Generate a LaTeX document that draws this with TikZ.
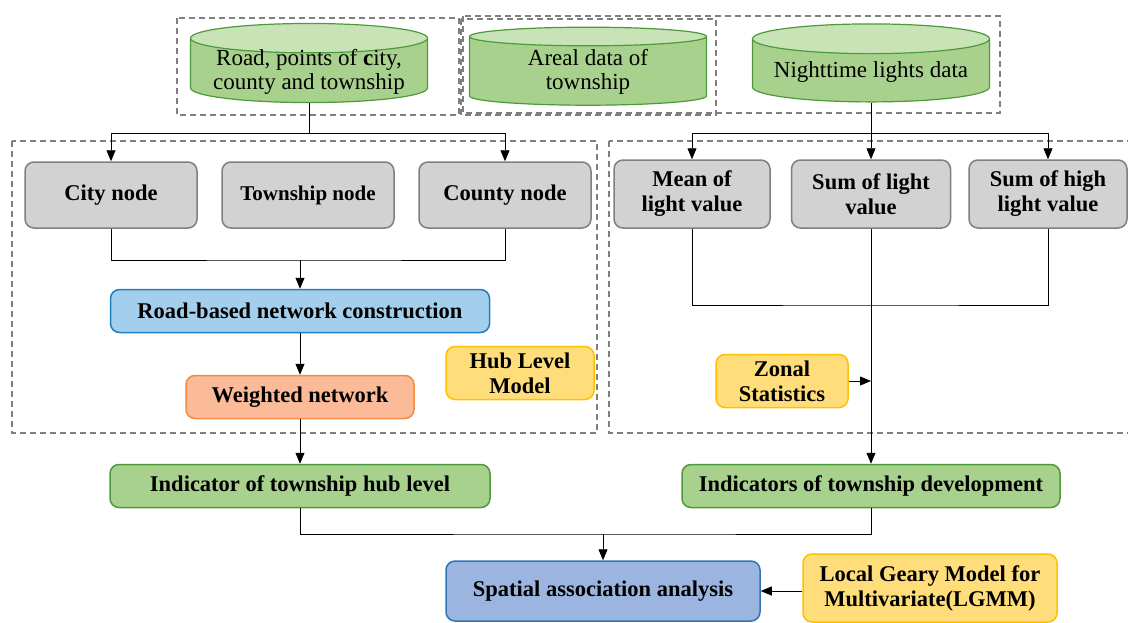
\documentclass[tikz,border=0pt]{standalone}
\usepackage{fontspec}
\setmainfont{Liberation Serif}
\usetikzlibrary{shapes.geometric,arrows.meta}
\definecolor{boxgray}{HTML}{D2D2D2}
\definecolor{edgegray}{HTML}{7F7F7F}
\definecolor{leafgreen}{HTML}{A9D18E}
\definecolor{lightgreen}{HTML}{C8E4B6}
\definecolor{darkgreen}{HTML}{4E9A3A}
\definecolor{skyblue}{HTML}{A3CFEC}
\definecolor{skyedge}{HTML}{1F7FC4}
\definecolor{peach}{HTML}{FBBA98}
\definecolor{peachedge}{HTML}{F58A42}
\definecolor{butter}{HTML}{FFDD7A}
\definecolor{butteredge}{HTML}{FFC000}
\definecolor{steelblue}{HTML}{9BB5E0}
\definecolor{steeledge}{HTML}{2E75B6}
\tikzset{
  base/.style={font=\fontsize{23}{25}\selectfont,align=center,inner sep=2pt},
  database/.style={base,shape=cylinder,shape border rotate=90,aspect=0.15,
    inner ysep=-4pt,font=\fontsize{23}{24}\selectfont,
    cylinder uses custom fill,cylinder body fill=leafgreen,cylinder end fill=lightgreen,
    draw=darkgreen,line width=1.2pt,minimum width=237pt,minimum height=78pt},
  roundbox/.style={base,font=\bfseries\fontsize{22.5}{25}\selectfont,rectangle,rounded corners=9pt,line width=1.5pt},
  graybox/.style={roundbox,fill=boxgray,draw=edgegray,minimum width=172pt,minimum height=66pt},
  greenbox/.style={roundbox,fill=leafgreen,draw=darkgreen,minimum height=43pt},
  yellowbox/.style={roundbox,fill=butter,draw=butteredge,minimum height=53pt},
  dashbox/.style={draw=edgegray,line width=1.3pt,dash pattern=on 6pt off 4pt},
  link/.style={draw=black,line width=0.8pt},
  arrow/.style={link,-{Triangle[length=11pt,width=9pt]}}
}
\begin{document}
\begin{tikzpicture}[x=1pt,y=-1pt]
  \useasboundingbox (0,0) rectangle (1128,622);
  \draw[dashbox] (177,18) rectangle (459,115);
  \draw[dashbox] (461,19) rectangle (716,115);
  \draw[dashbox] (463,16) rectangle (1000,113);
  \draw[dashbox] (12,141) rectangle (597,433);
  \draw[dashbox] (609,141) rectangle (1134,433);

  \node[database] (roads) at (309,72) {Road, points of \textbf{c}ity,\\county and township};
  \node[database] (areal) at (588,72) {Areal data of\\township};
  \node[database] (lights) at (871,72) {Nighttime lights data};

  \node[graybox] (city) at (111,195) {City node};
  \node[graybox,font=\bfseries\fontsize{21}{24}\selectfont] (township) at (308,195) {Township node};
  \node[graybox] (county) at (505,195) {County node};
  \node[graybox,minimum width=156pt,minimum height=68pt] (mean) at (692,194) {Mean of\\light value};
  \node[graybox,minimum width=159pt,minimum height=68pt] (sumlight) at (871,194) {Sum of light\\value};
  \node[graybox,minimum width=158pt,minimum height=68pt] (sumhigh) at (1048,194) {Sum of high\\light value};

  \node[roundbox,fill=skyblue,draw=skyedge,minimum width=379pt,minimum height=43pt] (road) at (300,311) {Road-based network construction};
  \node[roundbox,fill=peach,draw=peachedge,minimum width=228pt,minimum height=43pt] (weighted) at (300,397) {Weighted network};
  \node[yellowbox,minimum width=148pt] (hub) at (520,373) {Hub Level\\Model};
  \node[yellowbox,minimum width=132pt] (zonal) at (782,381) {Zonal\\Statistics};

  \node[greenbox,minimum width=380pt] (hubind) at (300,486) {Indicator of township hub level};
  \node[greenbox,minimum width=378pt] (devind) at (871,486) {Indicators of township development};

  \node[roundbox,fill=steelblue,draw=steeledge,minimum width=314pt,minimum height=60pt] (spatial) at (603,591) {Spatial association analysis};
  \node[yellowbox,minimum width=254pt,minimum height=68pt] (lgmm) at (930,588) {Local Geary Model for\\Multivariate(LGMM)};

  \coordinate (lsplit) at (309,133);
  \coordinate (rsplit) at (871,133);
  \coordinate (ljoin) at (300,260);
  \coordinate (rjoin) at (871,305);
  \coordinate (zhit) at (871,381);
  \coordinate (bjoin) at (603,534);

  \draw[link] (roads.south) -- (lsplit);
  \draw[arrow] (lsplit) -| (city.north);
  \draw[arrow] (lsplit) -| (county.north);
  \draw[link] (lights.south) -- (rsplit);
  \draw[arrow] (rsplit) -| (mean.north);
  \draw[arrow] (rsplit) -- (sumlight.north);
  \draw[arrow] (rsplit) -| (sumhigh.north);

  \draw[link] (city.south) |- (ljoin) -| (county.south);
  \draw[arrow] (ljoin) -- (road.north);
  \draw[arrow] (road.south) -- (weighted.north);
  \draw[arrow] (weighted.south) -- (hubind.north);

  \draw[link] (mean.south) |- (rjoin) -| (sumhigh.south);
  \draw[arrow] (sumlight.south) -- (devind.north);
  \draw[arrow] (zonal.east) -- (zhit);

  \draw[link] (hubind.south) |- (bjoin) -| (devind.south);
  \draw[arrow] (bjoin) -- (spatial.north);
  \draw[arrow] (lgmm.west |- spatial.east) -- (spatial.east);
\end{tikzpicture}
\end{document}
